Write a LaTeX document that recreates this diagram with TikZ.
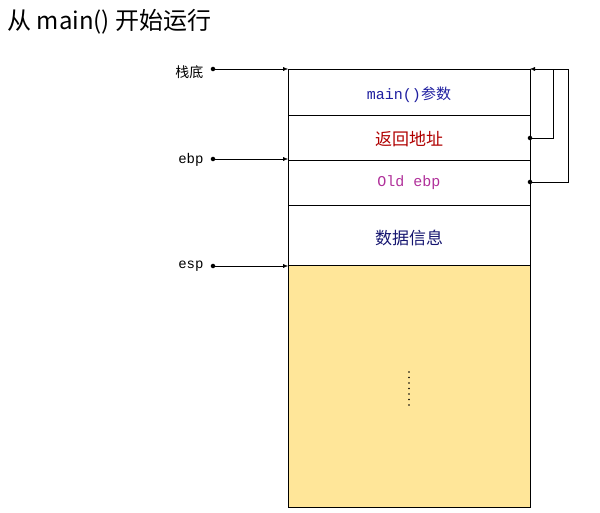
\documentclass[tikz,border=0pt]{standalone}
\usepackage{fontspec}
\setmainfont{Noto Sans CJK SC}
\setmonofont{Liberation Mono}
\usetikzlibrary{arrows.meta}
\definecolor{memyellow}{HTML}{FFE699}
\definecolor{argblue}{HTML}{1F1FA0}
\definecolor{retred}{HTML}{B00000}
\definecolor{ebpmag}{HTML}{B0309A}
\begin{document}
\begin{tikzpicture}[
  x=1pt, y=-1pt,
  cell/.style={draw, thin},
  lbl/.style={font=\ttfamily\fontsize{14}{16}\selectfont, anchor=east},
  ptr/.style={-{Latex[length=5pt,width=4pt]}},
  pin/.style={fill, circle, inner sep=1.6pt}
]
\useasboundingbox (0,0) rectangle (600,513);
\node[anchor=west, font=\fontsize{24}{28}\selectfont] (title) at (4,22) {从 main() 开始运行};

% stack cells
\fill[memyellow] (288,265) rectangle (530,507);
\draw[cell] (288,69) rectangle (530,115);
\draw[cell] (288,115) rectangle (530,160);
\draw[cell] (288,160) rectangle (530,205);
\draw[cell] (288,205) rectangle (530,265);
\draw[cell] (288,265) rectangle (530,507);

\node[font=\ttfamily\fontsize{15}{17}\selectfont, text=argblue] (args) at (409,95) {main()\rmfamily 参数};
\node[font=\fontsize{17}{19}\selectfont, text=retred] (ret) at (409,139) {返回地址};
\node[font=\ttfamily\fontsize{15}{17}\selectfont, text=ebpmag] (oldebp) at (409,183) {Old ebp};
\node[font=\fontsize{17}{19}\selectfont, text=argblue!70!black] (data) at (409,238) {数据信息};
\foreach \k in {0,...,6} \fill (409,372+\k*5.5) circle (0.9);

% left pointers
\node[lbl, font=\fontsize{14}{16}\selectfont] (bottom) at (207,72) {栈底};
\node[lbl] (ebp) at (207,160) {ebp};
\node[lbl] (esp) at (207,266) {esp};
\foreach \n/\y in {bottom/69, ebp/159, esp/266} {
  \node[pin] (\n dot) at (213,\y) {};
  \coordinate (\n tip) at (288,\y);
  \draw[ptr] (\n dot) -- (\n tip);
}

% right links
\node[pin] (retdot) at (530,138) {};
\node[pin] (olddot) at (530,182) {};
\coordinate (top) at (530,69);
\draw (retdot) -- (553,138) -- (553,69);
\draw (olddot) -- (568,182) -- (568,69) -- (553,69);
\draw[ptr] (553,69) -- (top);
\end{tikzpicture}
\end{document}
